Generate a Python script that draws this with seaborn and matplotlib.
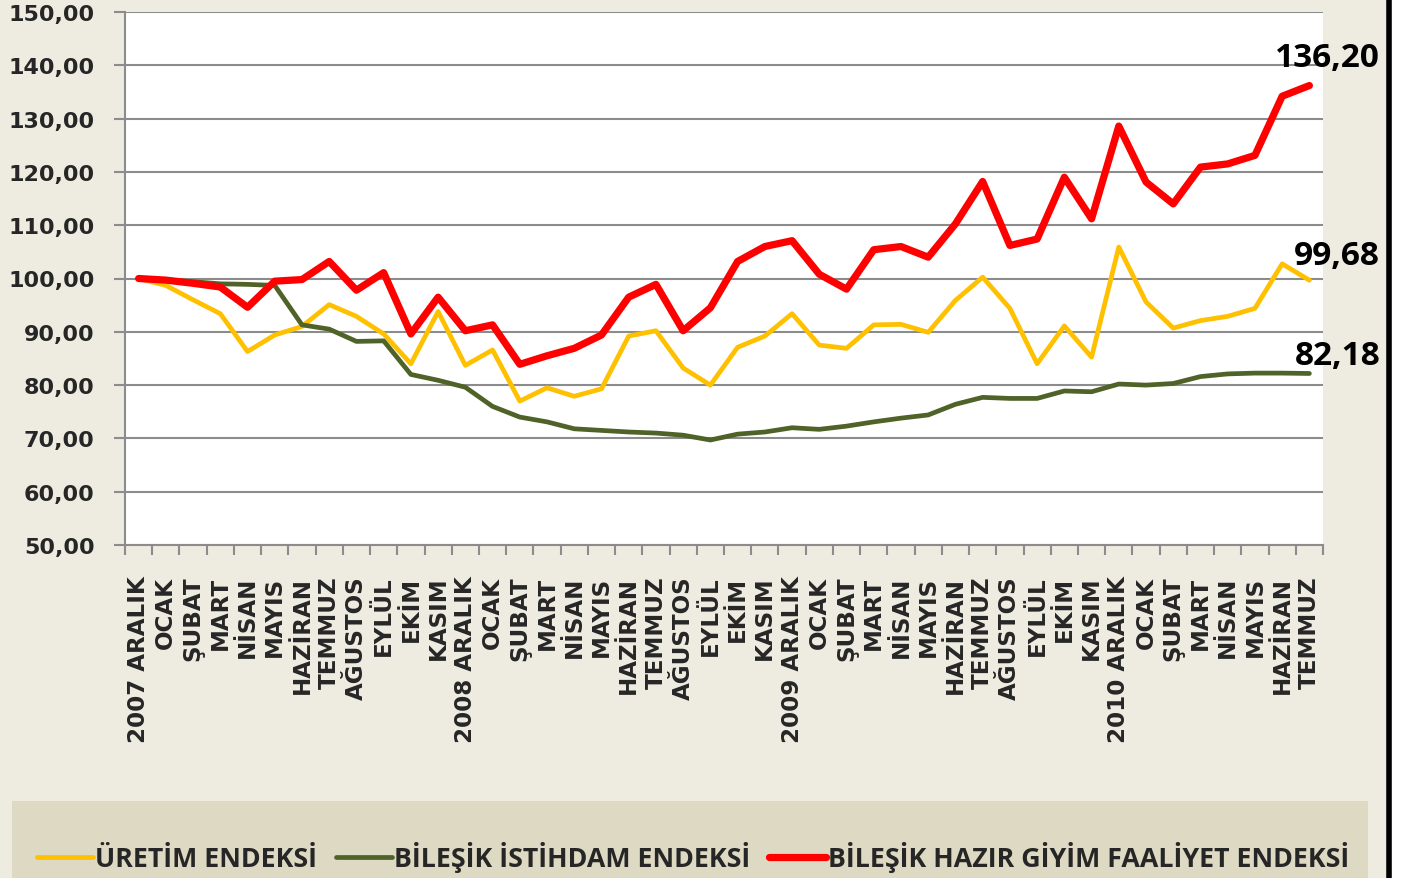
import numpy as np
import pandas as pd
import matplotlib
matplotlib.use("Agg")
import matplotlib.pyplot as plt
from matplotlib.lines import Line2D
from matplotlib.patches import Rectangle
from matplotlib.ticker import FuncFormatter, FixedLocator
import seaborn as sns

months = ["2007 ARALIK", "OCAK", "ŞUBAT", "MART", "NİSAN", "MAYIS", "HAZİRAN", "TEMMUZ",
          "AĞUSTOS", "EYLÜL", "EKİM", "KASIM", "2008 ARALIK", "OCAK", "ŞUBAT", "MART",
          "NİSAN", "MAYIS", "HAZİRAN", "TEMMUZ", "AĞUSTOS", "EYLÜL", "EKİM", "KASIM",
          "2009 ARALIK", "OCAK", "ŞUBAT", "MART", "NİSAN", "MAYIS", "HAZİRAN", "TEMMUZ",
          "AĞUSTOS", "EYLÜL", "EKİM", "KASIM", "2010 ARALIK", "OCAK", "ŞUBAT", "MART",
          "NİSAN", "MAYIS", "HAZİRAN", "TEMMUZ"]

uretim = [100.0, 98.7, 96.0, 93.4, 86.3, 89.4, 91.0, 95.1, 92.9, 89.6, 84.0, 93.8,
          83.7, 86.6, 77.0, 79.5, 77.9, 79.3, 89.2, 90.2, 83.2, 80.0, 87.1, 89.2,
          93.4, 87.5, 86.9, 91.3, 91.4, 89.9, 95.9, 100.25, 94.4, 84.0, 91.1, 85.25,
          105.9, 95.6, 90.7, 92.1, 92.9, 94.4, 102.75, 99.68]

istihdam = [100.0, 99.7, 99.4, 99.0, 98.9, 98.7, 91.3, 90.5, 88.2, 88.3, 82.0, 80.9,
            79.6, 76.0, 74.0, 73.1, 71.8, 71.5, 71.2, 71.0, 70.6, 69.7, 70.8, 71.2,
            72.0, 71.7, 72.3, 73.1, 73.8, 74.4, 76.4, 77.7, 77.5, 77.5, 78.9, 78.75,
            80.2, 80.0, 80.3, 81.6, 82.1, 82.25, 82.25, 82.18]

hazir_giyim = [100.0, 99.7, 99.1, 98.4, 94.6, 99.5, 99.8, 103.2, 97.8, 101.1, 89.6, 96.5,
               90.2, 91.3, 83.9, 85.5, 86.9, 89.4, 96.5, 98.9, 90.2, 94.5, 103.2, 106.0,
               107.1, 100.8, 98.0, 105.4, 106.0, 104.0, 110.25, 118.2, 106.2, 107.4, 119.0, 111.2,
               128.6, 118.1, 114.0, 120.9, 121.5, 123.1, 134.2, 136.2]

names = ["ÜRETİM ENDEKSİ", "BİLEŞİK İSTİHDAM ENDEKSİ", "BİLEŞİK HAZIR GİYİM FAALİYET ENDEKSİ"]
colors = ["#FFC000", "#4F6228", "#FF0000"]
widths = [3.4, 3.4, 5.2]

sns.set_theme(style="white")
plt.rcParams["font.family"] = ["Open Sans", "DejaVu Sans"]
plt.rcParams["font.weight"] = "bold"

pos = np.arange(len(months))
df = pd.DataFrame({"pos": pos, names[0]: uretim, names[1]: istihdam, names[2]: hazir_giyim})

fig = plt.figure(figsize=(14.08, 8.79), dpi=100, facecolor="#EEECE1")
ax = fig.add_axes([125/1408, 1-546/879, (1323-125)/1408, (546-13)/879])
ax.set_facecolor("white")

for name, c, lw in zip(names, colors, widths):
    sns.lineplot(data=df, x="pos", y=name, color=c, linewidth=lw, ax=ax,
                 solid_capstyle="round", solid_joinstyle="round", zorder=3)

ax.set_xlim(-0.5, len(months) - 0.5)
ax.set_ylim(50, 150)
ax.set_yticks(np.arange(50, 151, 10))
ax.yaxis.set_major_formatter(FuncFormatter(lambda v, p: f"{v:.2f}".replace(".", ",")))
ax.grid(axis="y", color="#8C8C8C", linewidth=1.5)
ax.set_axisbelow(True)

ax.set_xticks(pos)
ax.set_xticklabels(months, rotation=90, va="top", ha="center", fontsize=16.6,
                   fontweight="bold", family="DejaVu Sans")
ax.xaxis.set_minor_locator(FixedLocator(np.arange(-0.5, len(months), 1)))
ax.tick_params(axis="x", which="major", length=0, pad=22)
ax.tick_params(axis="x", which="minor", length=7, width=1.5, color="#8C8C8C", bottom=True)
ax.tick_params(axis="y", length=8, width=1.5, color="#8C8C8C", left=True, pad=14,
               labelsize=16)
for lab in ax.get_yticklabels():
    lab.set_fontweight("bold")
    lab.set_family("DejaVu Sans")
ax.set_xlabel("")
ax.set_ylabel("")

for side in ["top", "right"]:
    ax.spines[side].set_visible(False)
for side in ["left", "bottom"]:
    ax.spines[side].set_color("#8C8C8C")
    ax.spines[side].set_linewidth(1.5)

# end labels
for vals, dy in [(hazir_giyim, 20), (uretim, 18), (istihdam, 13)]:
    ax.annotate(f"{vals[-1]:.2f}".replace(".", ","), xy=(pos[-1], vals[-1]),
                xytext=(51, dy), textcoords="offset points", ha="right", va="center",
                fontsize=24, fontweight="bold", color="black", annotation_clip=False)

# legend band, right border
fig.patches.append(Rectangle((12/1408, 0), (1368-12)/1408, (879-802)/879,
                             transform=fig.transFigure, facecolor="#DDD9C3",
                             edgecolor="none", zorder=0))
fig.patches.append(Rectangle((1392/1408, 0), 16/1408, 1, transform=fig.transFigure,
                             facecolor="white", edgecolor="none", zorder=0))
fig.add_artist(Line2D([1389/1408, 1389/1408], [0, 1], transform=fig.transFigure,
                      color="black", linewidth=4))

handles = [Line2D([0], [0], color=c, linewidth=lw, solid_capstyle="round")
           for c, lw in zip(colors, widths)]
fig.legend(handles, names, loc="center", bbox_to_anchor=(693/1408, 1-858/879), ncol=3,
           frameon=False, handlelength=2.1, handletextpad=0.08, columnspacing=0.7,
           prop={"family": "Open Sans", "weight": "bold", "size": 19.3})

fig.savefig("out.png", dpi=100, facecolor=fig.get_facecolor())
